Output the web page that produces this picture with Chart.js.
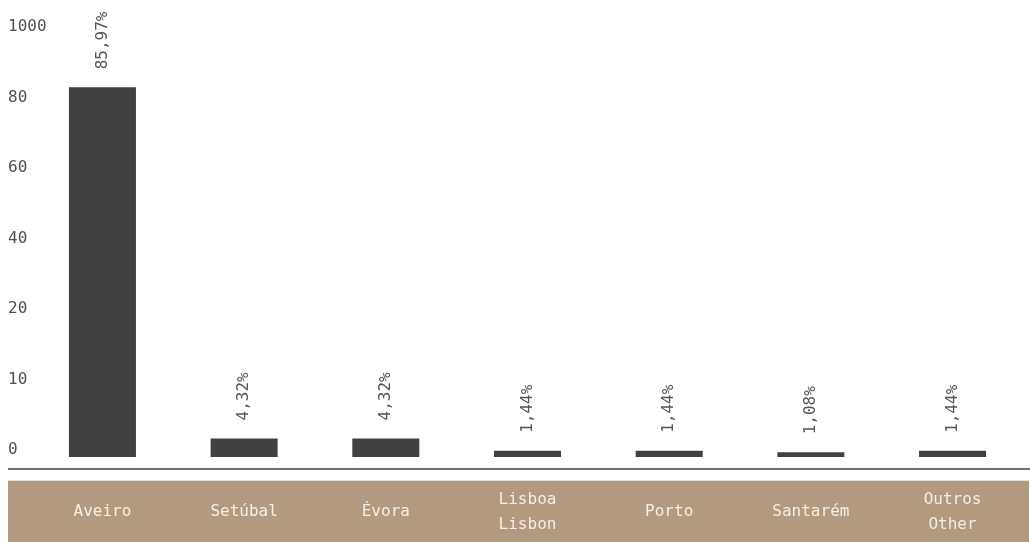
<!DOCTYPE html>
<html>
<head>
<meta charset="utf-8">
<script src="https://cdn.jsdelivr.net/npm/chart.js@4/dist/chart.umd.min.js"></script>
<style>
  html, body { margin: 0; padding: 0; background: #ffffff; }
  #wrap { width: 1030px; height: 542px; position: relative; }
</style>
</head>
<body>
<div id="wrap"><canvas id="chart" width="1030" height="542"></canvas></div>
<script>
// Districts (PT / EN where translated)
const categories = ['Aveiro', 'Setúbal', 'Évora', 'Lisboa\nLisbon', 'Porto', 'Santarém', 'Outros\nOther'];
// Share of the total, in percent
const shares = [85.97, 4.32, 4.32, 1.44, 1.44, 1.08, 1.44];
// Shown percentage labels
const shareLabels = ['85,97%', '4,32%', '4,32%', '1,44%', '1,44%', '1,08%', '1,44%'];
// Labels printed along the vertical axis, bottom to top
const yTickLabels = ['0', '10', '20', '40', '60', '80', '1000'];

const FONT = '"DejaVu Sans Mono", "Liberation Mono", monospace';
const BAND = '#b29a80';
const TICK_STEP = 16.4;

const decor = {
  id: 'decor',
  afterDraw(chart) {
    const ctx = chart.ctx;
    const x = chart.scales.x;
    ctx.save();
    // axis rule
    ctx.fillStyle = '#727272';
    ctx.fillRect(8, 468, 1022, 2);
    // category band
    ctx.fillStyle = '#e4ddd6';
    ctx.fillRect(8, 480, 1021, 1);
    ctx.fillStyle = BAND;
    ctx.fillRect(8, 481, 1021, 61);
    // category names
    ctx.fillStyle = '#f4eee6';
    ctx.font = '16px ' + FONT;
    ctx.textAlign = 'center';
    ctx.textBaseline = 'middle';
    categories.forEach((c, i) => {
      const lines = c.split('\n');
      const cx = x.getPixelForValue(i);
      const lh = 25;
      const start = 512 - (lines.length - 1) * lh / 2;
      lines.forEach((ln, j) => ctx.fillText(ln, cx, start + j * lh));
    });
    ctx.restore();
  },
  afterDatasetsDraw(chart) {
    const ctx = chart.ctx;
    const meta = chart.getDatasetMeta(0);
    ctx.save();
    ctx.fillStyle = '#555555';
    ctx.font = '16px ' + FONT;
    ctx.textAlign = 'left';
    ctx.textBaseline = 'middle';
    meta.data.forEach((bar, i) => {
      ctx.save();
      ctx.translate(bar.x, bar.y - 18);
      ctx.rotate(-Math.PI / 2);
      ctx.fillText(shareLabels[i], 0, 0);
      ctx.restore();
    });
    ctx.restore();
  }
};

new Chart(document.getElementById('chart'), {
  type: 'bar',
  data: {
    labels: categories,
    datasets: [{
      data: shares,
      backgroundColor: '#414143',
      borderWidth: 0,
      barPercentage: 0.473,
      categoryPercentage: 1
    }]
  },
  options: {
    responsive: false,
    animation: false,
    layout: { padding: { left: 8, right: 6.6, top: 27, bottom: 0 } },
    plugins: { legend: { display: false }, tooltip: { enabled: false } },
    scales: {
      x: {
        grid: { display: false },
        border: { display: false },
        ticks: { display: false },
        afterFit(s) { s.height = 85; }
      },
      y: {
        min: 0,
        max: 100,
        grid: { display: false },
        border: { display: false },
        afterFit(s) { s.width = 23.6; },
        afterBuildTicks(s) {
          s.ticks = yTickLabels.map((_, i) => ({ value: i * TICK_STEP }));
        },
        ticks: {
          mirror: true,
          crossAlign: 'near',
          padding: -23.6,
          labelOffset: -7,
          color: '#505050',
          font: { family: FONT, size: 16 },
          callback: (v, i) => yTickLabels[i]
        }
      }
    }
  },
  plugins: [decor]
});
</script>
</body>
</html>
